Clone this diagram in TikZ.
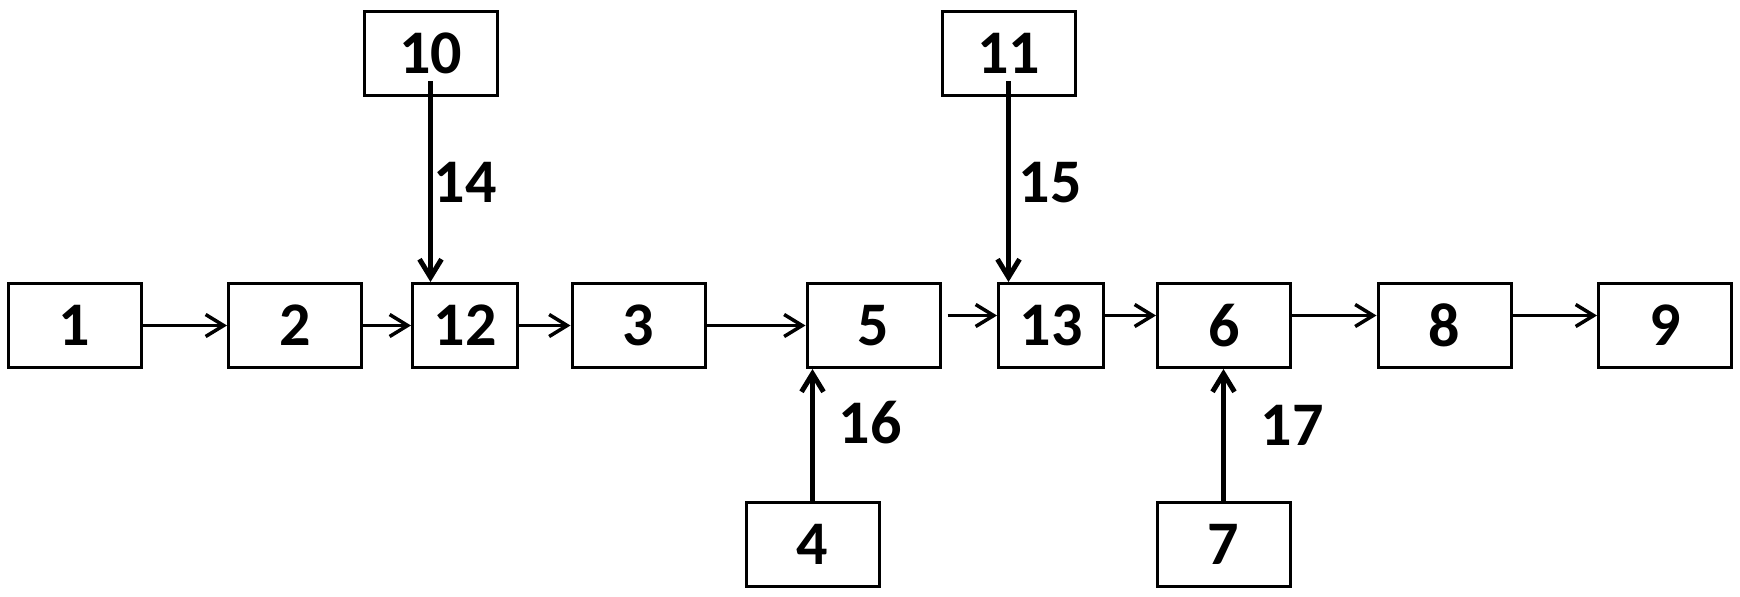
\documentclass[tikz,border=0pt]{standalone}
\usepackage{fontspec}
\setmainfont{Carlito}
\usetikzlibrary{arrows.meta}

\begin{document}
\begin{tikzpicture}[x=0.5pt,y=-0.5pt,
		box/.style={draw,line width=1.5pt,inner sep=0pt,minimum width=66.5pt,minimum height=42pt,font=\fontsize{31}{31}\selectfont\bfseries},
		narrow/.style={box,minimum width=52.5pt},
		lbl/.style={inner sep=0pt,font=\fontsize{31}{31}\selectfont\bfseries},
		>={Straight Barb[length=9pt,width=11pt]}]
			\useasboundingbox (0,0) rectangle (1740,596);
			% main chain
			\node[box] (b1) at (74.5,325.5) {1};
			\node[box] (b2) at (295,325.5) {2};
			\node[narrow] (b12) at (465,325.5) {12};
			\node[box] (b3) at (638.5,325.5) {3};
			\node[box] (b5) at (873.5,325.5) {5};
			\node[narrow] (b13) at (1051,325.5) {13};
			\node[box] (b6) at (1224,325.5) {6};
			\node[box] (b8) at (1444.5,325.5) {8};
			\node[box] (b9) at (1665,325.5) {9};
			% feeds
			\node[box] (b10) at (430.5,53.5) {10};
			\node[box] (b11) at (1008.5,53.5) {11};
			\node[box] (b4) at (812.5,544) {4};
			\node[box] (b7) at (1223.5,544) {7};
			\node[lbl] (l14) at (465,182) {14};
			\node[lbl] (l15) at (1050,183) {15};
			\node[lbl] (l16) at (870,423) {16};
			\node[lbl] (l17) at (1292,425) {17};
			\path[->,line width=1.75pt]
			(b1.east) edge (b2.west)
			(b2.east) edge (b12.west)
			(b12.east) edge (b3.west)
			(b3.east) edge (b5.west)
			([xshift=3pt,yshift=5pt]b5.east) edge ([yshift=5pt]b13.west)
			([yshift=5pt]b13.east) edge ([yshift=5pt]b6.west)
			([yshift=5pt]b6.east) edge ([yshift=5pt]b8.west)
			([yshift=5pt]b8.east) edge ([yshift=5pt]b9.west);
			\path[->,line width=2.5pt]
			([yshift=8pt]b10.south) edge (b10.south |- b12.north)
			([yshift=8pt]b11.south) edge (b11.south |- b13.north)
			(b4.north) edge (b4.north |- b5.south)
			(b7.north) edge (b7.north |- b6.south);
		\end{tikzpicture}
\end{document}
